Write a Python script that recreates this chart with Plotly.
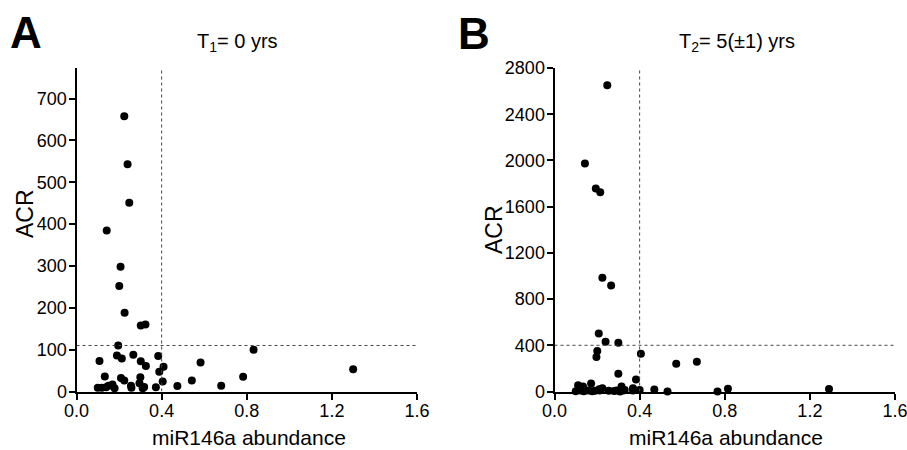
import plotly.graph_objects as go

# ---- Data ----
a_x = [0.2245, 0.240, 0.248, 0.142, 0.207, 0.201, 0.226, 0.302, 0.324, 0.196,
       0.190, 0.213, 0.267, 0.384, 0.108, 0.302, 0.326, 0.409, 0.389, 0.583,
       0.832, 0.133, 0.209, 0.2245, 0.300, 0.296, 0.405, 0.542, 0.783, 0.256,
       0.318, 0.373, 0.474, 0.680, 0.100, 0.119, 0.150, 0.169, 0.179, 0.139,
       0.258, 0.311, 1.300]
a_y = [658, 543, 451, 385, 298, 252, 188, 158, 160, 110,
       86, 79, 88, 85, 73, 72, 61, 59, 47, 69,
       100, 36, 32, 26, 34, 20, 24, 26, 35, 14,
       11, 10, 13, 14, 9, 9, 14, 17, 8, 10,
       9, 8, 53]

b_x = [0.248, 0.143, 0.194, 0.215, 0.225, 0.266, 0.208, 0.240, 0.300, 0.201,
       0.197, 0.406, 0.572, 0.669, 0.300, 0.383, 0.172, 0.111, 0.134, 0.225,
       0.315, 0.369, 0.400, 0.469, 0.815, 0.100, 0.123, 0.138, 0.177, 0.212,
       0.255, 0.292, 0.308, 0.323, 0.369, 0.531, 0.766, 1.290, 0.160, 0.190,
       0.280, 0.330, 0.210]
b_y = [2650, 1973, 1756, 1724, 984, 917, 501, 431, 423, 350,
       298, 327, 240, 257, 153, 104, 69, 55, 43, 29,
       43, 29, 14, 17, 23, 3, 9, 3, 3, 9,
       6, 9, 0, 9, 9, 0, 0, 22, 8, 6,
       5, 14, 20]

x_ticks = [0.0, 0.4, 0.8, 1.2, 1.6]
x_tick_text = ["0.0", "0.4", "0.8", "1.2", "1.6"]
a_y_ticks = [0, 100, 200, 300, 400, 500, 600, 700]
b_y_ticks = [0, 400, 800, 1200, 1600, 2000, 2400, 2800]

a_cut = {"x": 0.4, "y": 110}
b_cut = {"x": 0.4, "y": 400}

a_title = "T<sub>1</sub>= 0 yrs"
b_title = "T<sub>2</sub>= 5(±1) yrs"
x_label = "miR146a abundance"
y_label = "ACR"

# ---- Figure ----
FONT = "Liberation Sans, Arial, sans-serif"
W, H = 907, 450
fig = go.Figure()

marker = dict(color="black", size=8, line=dict(width=0))
fig.add_trace(go.Scatter(x=a_x, y=a_y, mode="markers", marker=marker,
                         xaxis="x", yaxis="y", cliponaxis=False, showlegend=False))
fig.add_trace(go.Scatter(x=b_x, y=b_y, mode="markers", marker=marker,
                         xaxis="x2", yaxis="y2", cliponaxis=False, showlegend=False))

a_range = [0, 773]
b_range = [0, 2800]

ydom = [(H - 391.5) / H, (H - 68) / H]
xdom_a = [76.5 / W, 417 / W]
xdom_b = [554.5 / W, 895 / W]

axis_common = dict(showline=True, linecolor="black", linewidth=2, ticks="outside",
                   ticklen=6, tickwidth=1.5, tickcolor="black", showgrid=False,
                   zeroline=False, automargin=False, ticklabeloverflow="allow",
                   tickfont=dict(family=FONT, size=18, color="black"))
x_common = dict(range=[0, 1.6], tickvals=x_ticks, ticktext=x_tick_text,
                ticklabelstandoff=-4, **axis_common)
y_common = dict(ticklabelstandoff=-2, **axis_common)

fig.update_layout(
    width=W, height=H, margin=dict(l=0, r=0, t=0, b=0, autoexpand=False),
    paper_bgcolor="white", plot_bgcolor="white",
    font=dict(family=FONT, color="black"),
    xaxis=dict(domain=xdom_a, anchor="y", **x_common),
    yaxis=dict(domain=ydom, range=a_range, tickvals=a_y_ticks, anchor="x", **y_common),
    xaxis2=dict(domain=xdom_b, anchor="y2", **x_common),
    yaxis2=dict(domain=ydom, range=b_range, tickvals=b_y_ticks, anchor="x2", **y_common),
)

dot = dict(color="#444", width=1, dash="dot")
for xr, yr, cut, rng in [("x", "y", a_cut, a_range), ("x2", "y2", b_cut, b_range)]:
    fig.add_shape(type="line", xref=xr, yref=yr, x0=0, x1=1.6, y0=cut["y"], y1=cut["y"], line=dot)
    fig.add_shape(type="line", xref=xr, yref=yr, x0=cut["x"], x1=cut["x"], y0=0, y1=rng[1], line=dot)


def note(text, px, py, size, angle=0):
    fig.add_annotation(text=text, xref="paper", yref="paper", x=px / W, y=(H - py) / H,
                       xanchor="center", yanchor="middle", showarrow=False, textangle=angle,
                       font=dict(family=FONT, size=size, color="black"))


# Titles, axis titles and panel letters
note(a_title, 237, 43, 20)
note(b_title, 737, 43, 20)
note("<b>A</b>", 26, 32, 44)
note("<b>B</b>", 474, 33, 44)
note(x_label, 249, 437, 21)
note(x_label, 726, 437, 21)
note(y_label, 25, 214, 23, angle=-90)
note(y_label, 494, 230, 23, angle=-90)

fig.write_html("out.html", config={"displayModeBar": False},
               post_script="document.body.style.margin='0';document.body.style.overflow='hidden';")
